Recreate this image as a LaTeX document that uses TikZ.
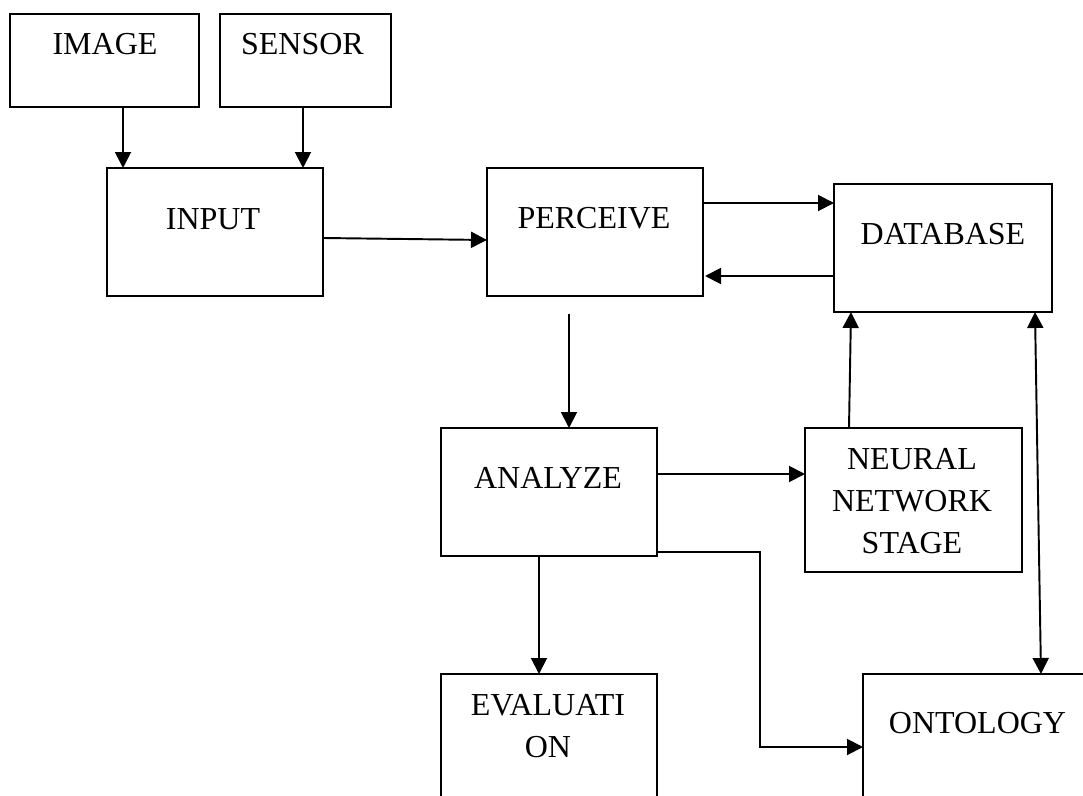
\documentclass[tikz,border=0pt]{standalone}
\usepackage{fontspec}
\setmainfont{Liberation Serif}
\usetikzlibrary{arrows.meta,calc}
\tikzset{
  box/.style={draw, line width=1.9pt, inner sep=0pt, outer sep=0pt, anchor=north west},
  lbl/.style={font=\fontsize{24}{31.5}\selectfont, inner sep=0pt, align=center},
  arr/.style={line width=1.45pt, -{Triangle[length=12pt,width=12pt]}},
  darr/.style={line width=1.45pt, {Triangle[length=12pt,width=12pt]}-{Triangle[length=12pt,width=12pt]}}
}
\begin{document}
\begin{tikzpicture}[x=0.75pt,y=-0.75pt]
\useasboundingbox (0,0) rectangle (1083,796);
\clip (0,0) rectangle (1083,796);
\fill[white] (0,0) rectangle (1083,796);
% boxes
\node[box, minimum width=141.75pt, minimum height=69.75pt] (image) at (10,14) {};
\node[box, minimum width=128.25pt, minimum height=69.75pt] (sensor) at (220,14) {};
\node[box, minimum width=162pt, minimum height=96pt] (input) at (107,168) {};
\node[box, minimum width=162pt, minimum height=96pt] (perceive) at (487,168) {};
\node[box, minimum width=163.5pt, minimum height=96pt] (database) at (834,184) {};
\node[box, minimum width=162pt, minimum height=96pt] (analyze) at (441,428) {};
\node[box, minimum width=162.75pt, minimum height=108pt] (neural) at (805,428) {};
\node[box, minimum width=162pt, minimum height=112.5pt] (evaluation) at (441,674) {};
\node[box, minimum width=187.5pt, minimum height=109.5pt] (ontology) at (863,674) {};
% labels
\node[lbl, anchor=base] (imaget) at (105,55) {IMAGE};
\node[lbl, anchor=base] (sensort) at (302.5,55) {SENSOR};
\node[lbl, anchor=base] (inputt) at (213,229) {INPUT};
\node[lbl, anchor=base] (perceivet) at (594,228) {PERCEIVE};
\node[lbl, anchor=base] (databaset) at (943,244) {DATABASE};
\node[lbl, anchor=base] (analyzet) at (548,488) {ANALYZE};
\node[lbl, anchor=center] (neuralt) at (912,501) {NEURAL\\NETWORK\\STAGE};
\node[lbl, anchor=center] (evaluationt) at (548,726) {EVALUATI\\ON};
\node[lbl, anchor=base] (ontologyt) at (977.5,733) {ONTOLOGY};
% connectors
\draw[arr] ($(image.south)+(18.5,0)$) coordinate (c1) -- (c1 |- input.north);
\draw[arr] ($(sensor.south)+(-2.5,0)$) coordinate (c2) -- (c2 |- input.north);
\draw[arr] ($(input.east)+(0,6)$) -- ($(perceive.west)+(0,8)$);
\draw[arr] ($(perceive.east)+(0,-29)$) coordinate (c3) -- (c3 -| database.west);
\draw[arr] ($(database.west)+(0,28)$) coordinate (c4) -- ($(c4 -| perceive.east)+(2,0)$);
\draw[arr] ($(perceive.south)+(-26,18)$) coordinate (c5) -- (c5 |- analyze.north);
\draw[arr] ($(analyze.east)+(0,-18)$) coordinate (c6) -- (c6 -| neural.west);
\draw[arr] ($(neural.north)+(-64.5,0)$) -- ($(database.south west)+(17,0)$);
\draw[arr] ($(analyze.east)+(0,60)$) -- ++(103,0) |- ($(ontology.north west)+(0,73)$);
\draw[arr] ($(analyze.south)+(-10,0)$) coordinate (c7) -- (c7 |- evaluation.north);
\draw[darr] ($(database.south west)+(201,0)$) -- ($(ontology.north west)+(178,0)$);
\end{tikzpicture}
\end{document}
